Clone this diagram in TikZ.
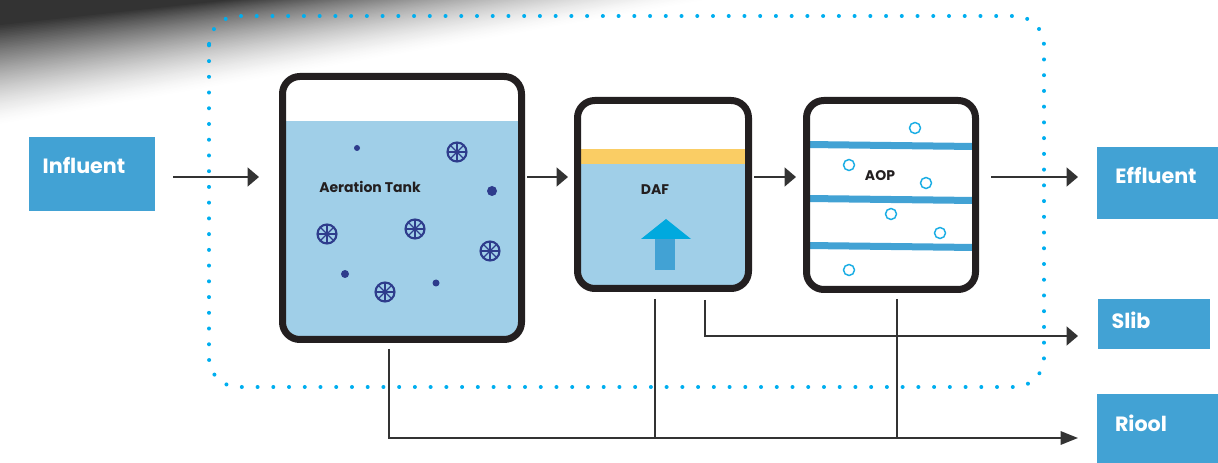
\documentclass[tikz,border=0pt]{standalone}
\usepackage{fontspec}
\setmainfont{Poppins}
\usetikzlibrary{arrows.meta,calc}
\definecolor{tankc}{HTML}{231F20}
\definecolor{boxblue}{HTML}{42A2D4}
\definecolor{water}{HTML}{A0CFE8}
\definecolor{foam}{HTML}{FACD64}
\definecolor{headc}{HTML}{00A9DE}
\definecolor{dotc}{HTML}{00AEEF}
\definecolor{bubc}{HTML}{1AADE4}
\definecolor{wheelc}{HTML}{2E3C8C}
\tikzset{
  tank/.style={draw=tankc, line width=5.25pt, rounded corners=13pt, inner sep=0pt, outer sep=2.625pt},
  lbox/.style={fill=boxblue, inner sep=0pt, outer sep=0pt},
  lbl/.style={font=\bfseries\fontsize{15.5}{15.5}\selectfont, text=white, inner sep=0pt},
  inlbl/.style={font=\bfseries\fontsize{10.5}{12}\selectfont, text=tankc, inner sep=0pt},
  flow/.style={draw=black!80, line width=1.6pt, -{Triangle[length=8.5pt,width=14pt]}},
  drain/.style={draw=black!80, line width=1.5pt},
  outflow/.style={draw=black!80, line width=1.5pt, -{Triangle[length=13pt,width=10pt]}},
  bubble/.style={draw=bubc, line width=1.1pt},
  wheel/.pic={
    \draw[wheelc, line width=1.6pt] (0,0) circle (9.5);
    \foreach \a in {0,45,...,315} \draw[wheelc, line width=1pt] (0,0) -- (\a:9);
    \fill[wheelc] (0,0) circle (2.2);
  }
}
\begin{document}
\begin{tikzpicture}[x=0.75pt,y=-0.75pt]
\useasboundingbox (0,0) rectangle (1218,463);
% background smear: nested triangles, lightest first
\foreach \i in {60,...,0} {
  \pgfmathsetmacro\t{\i/60}
  \pgfmathsetmacro\c{80*(1-\t)^1.4}
  \fill[black!\c] (0,0) -- (0,{25+100*\t}) -- ({230+480*\t},0) -- cycle;
}
% water and contents
\begin{scope}
  \clip[rounded corners=10pt] (286,80) rectangle (518,336);
  \fill[water] (280,121) rectangle (525,340);
\end{scope}
\begin{scope}
  \clip[rounded corners=9pt] (581,104) rectangle (745,285);
  \fill[foam] (576,149) rectangle (750,164);
  \fill[water] (576,164) rectangle (750,290);
\end{scope}
% DAF arrow
\fill[boxblue] (655,238) rectangle (675,270);
\fill[headc] (666,219) -- (691,239) -- (641,239) -- cycle;
% AOP stripes
\fill[boxblue] (807,141) -- (975,143) -- (975,150) -- (807,148) -- cycle;
\fill[boxblue] (807,195) -- (975,197) -- (975,204) -- (807,202) -- cycle;
\fill[boxblue] (807,242) -- (975,244) -- (975,251) -- (807,249) -- cycle;
\foreach \p in {(915,128),(849,165),(926,183),(891,214),(940,233),(849,270)}
  \draw[bubble] \p circle (5.5);
% aeration contents
\fill[wheelc] (357,148) circle (3);
\fill[wheelc] (492,191) circle (5);
\fill[wheelc] (345,274) circle (4);
\fill[wheelc] (436,283) circle (3.5);
\foreach \p in {(457,152),(327,234),(415,229),(490,251),(385,292)}
  \pic at \p {wheel};
% tanks
\node[tank, minimum width={239*0.75pt}, minimum height={263*0.75pt}] (aer) at (402,208) {};
\node[tank, minimum width={171*0.75pt}, minimum height={188*0.75pt}] (daf) at (663,194.5) {};
\node[tank, minimum width={169*0.75pt}, minimum height={189*0.75pt}] (aop) at (891,195) {};
\node[inlbl] (aert) at (370,187) {Aeration Tank};
\node[inlbl] (daft) at (655,190) {DAF};
\node[inlbl] (aopt) at (880,176) {AOP};
% label boxes
\node[lbox, minimum width={126*0.75pt}, minimum height={74*0.75pt}] (infl) at (92,174) {};
\node[lbox, minimum width={121*0.75pt}, minimum height={72*0.75pt}] (effl) at (1157.5,183) {};
\node[lbox, minimum width={112*0.75pt}, minimum height={50*0.75pt}] (slib) at (1154,324) {};
\node[lbox, minimum width={121*0.75pt}, minimum height={69*0.75pt}] (riool) at (1157.5,428.5) {};
\node[lbl] (inflt) at (84,165) {Influent};
\node[lbl] (efflt) at (1156,175) {Effluent};
\node[lbl] (slibt) at (1131,320) {Slib};
\node[lbl] (rioolt) at (1141,423) {Riool};
% flow arrows
\draw[flow] ($(infl.east)+(18,3)$) -- ($(aer.west)+(-20,-31)$);
\draw[flow] ($(aer.east)+(2,-31)$) -- ($(daf.west)+(-6,-17.5)$);
\draw[flow] ($(daf.east)+(2,-17.5)$) -- ($(aop.west)+(-7,-18)$);
\draw[flow] ($(aop.east)+(12,-18)$) -- ($(effl.west)+(-19,-6)$);
\draw[flow] ($(daf.south)+(42,8)$) |- ($(slib.west)+(-20,12)$);
\draw[outflow] ($(aer.south)+(-13,6)$) |- ($(riool.west)+(-19,9.5)$);
\draw[drain] ($(daf.south)+(-8,7)$) -- ($(daf.south)+(-8,146)$);
\draw[drain] ($(aop.south)+(6,6)$) -- ($(aop.south)+(6,145)$);
% dotted boundary
\draw[dotc, line width=3pt, line cap=round, dash pattern=on 0pt off 11.8pt, rounded corners=22pt] (209,16) rectangle (1044,387);
\end{tikzpicture}
\end{document}
